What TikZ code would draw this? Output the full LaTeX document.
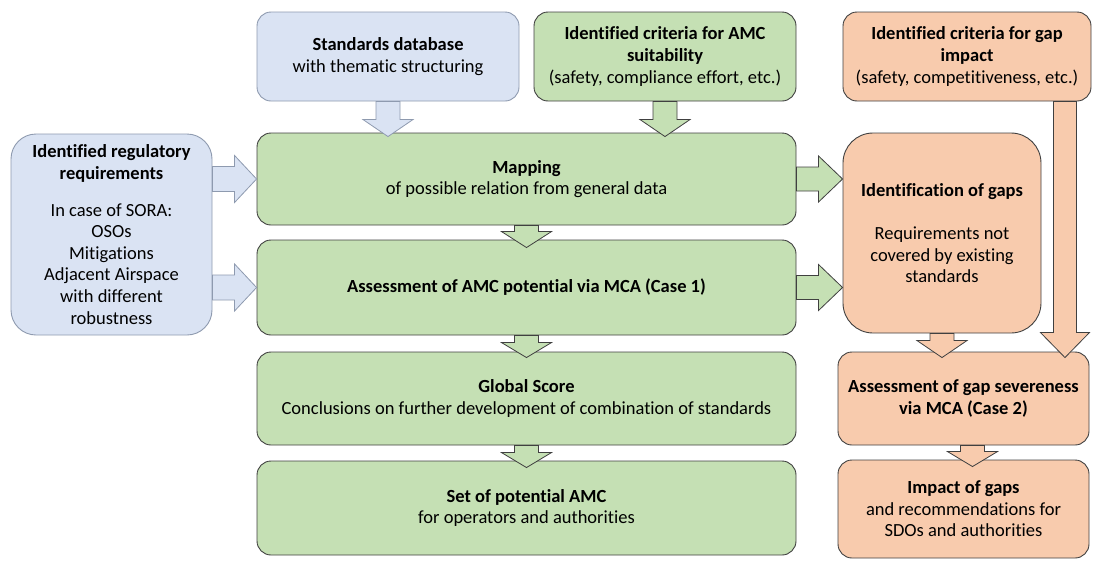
\documentclass[tikz,border=0pt]{standalone}
\usepackage{fontspec}
\setmainfont{Carlito}[Ligatures=NoCommon]
\usetikzlibrary{calc}
\definecolor{bfill}{HTML}{DAE3F3}
\definecolor{bdraw}{HTML}{8E9AAF}
\definecolor{gfill}{HTML}{C5E0B4}
\definecolor{ofill}{HTML}{F8CBAD}
\definecolor{dline}{HTML}{404040}
\tikzset{
  box/.style={draw=dline, line width=0.9pt, rounded corners=14pt, align=center,
    inner sep=0pt, font=\fontsize{18.5}{21.6}\selectfont, text=black},
  bluebox/.style={box, fill=bfill, draw=bdraw},
  greenbox/.style={box, fill=gfill},
  orangebox/.style={box, fill=ofill},
  barrow/.style={fill=bfill, draw=bdraw, line width=0.8pt, line join=miter},
  garrow/.style={fill=gfill, draw=dline, line width=0.8pt, line join=miter},
  oarrow/.style={fill=ofill, draw=dline, line width=0.8pt, line join=miter},
}
% box: name, style, x1, y1, x2, y2, text
\newcommand{\boxat}[7]{%
  \node[#2, minimum width={(#5-#3)*1pt}, minimum height={(#6-#4)*1pt}]
    (#1) at ({(#3+#5)/2},{(#4+#6)/2}) {#7};}
% vertical block arrow: style, start, tip, shaft half width, head half width, head length
\newcommand{\vblk}[6]{%
  \draw[#1] let \p1=(#2), \p2=(#3) in
    ({\x1-#4pt},\y1) -- ({\x1-#4pt},{\y2+#6pt}) -- ({\x1-#5pt},{\y2+#6pt}) -- (\x1,\y2)
    -- ({\x1+#5pt},{\y2+#6pt}) -- ({\x1+#4pt},{\y2+#6pt}) -- ({\x1+#4pt},\y1) -- cycle;}
% horizontal block arrow: style, start, tip, shaft half height, head half height, head length
\newcommand{\hblk}[6]{%
  \draw[#1] let \p1=(#2), \p2=(#3) in
    (\x1,{\y1+#4pt}) -- ({\x2-#6pt},{\y1+#4pt}) -- ({\x2-#6pt},{\y1+#5pt}) -- (\x2,\y1)
    -- ({\x2-#6pt},{\y1-#5pt}) -- ({\x2-#6pt},{\y1-#4pt}) -- (\x1,{\y1-#4pt}) -- cycle;}
\begin{document}
\begin{tikzpicture}[x=1pt,y=-1pt]
\useasboundingbox (0,0) rectangle (1093,560);
% boxes
\boxat{std}{bluebox}{257}{12}{519}{101}{\textbf{Standards database}\\with thematic structuring}
\boxat{amc}{greenbox}{534}{12}{796}{101}{\textbf{Identified criteria for AMC}\\\textbf{suitability}\\(safety, compliance effort, etc.)}
\boxat{gi}{orangebox}{843}{12}{1091}{101}{\textbf{Identified criteria for gap}\\\textbf{impact}\\(safety, competitiveness, etc.)}
\boxat{reg}{bluebox, rounded corners=25pt}{11}{134}{212}{335}{\textbf{Identified regulatory}\\\textbf{requirements}\\[15pt]In case of SORA:\\OSOs\\Mitigations\\Adjacent Airspace\\with different\\robustness}
\boxat{map}{greenbox}{257}{133}{796}{225}{\textbf{Mapping}\\of possible relation from general data}
\boxat{ass}{greenbox}{257}{240}{796}{335}{\textbf{Assessment of AMC potential via MCA (Case 1)}}
\boxat{glob}{greenbox}{257}{352}{796}{445}{\textbf{Global Score}\\Conclusions on further development of combination of standards}
\boxat{set}{greenbox}{257}{461}{796}{555}{\textbf{Set of potential AMC}\\for operators and authorities}
\boxat{ident}{orangebox, rounded corners=30pt}{843}{133}{1041}{333}{\textbf{Identification of gaps}\\[22pt]Requirements not\\covered by existing\\standards}
\boxat{sev}{orangebox}{838}{352}{1089}{445}{\textbf{Assessment of gap severeness}\\\textbf{via MCA (Case 2)}}
\boxat{imp}{orangebox}{838}{460}{1089}{558}{\textbf{Impact of gaps}\\and recommendations for\\SDOs and authorities}
% arrows
\coordinate (gitail) at ($(gi.south east)+(-26.5,0)$);
\coordinate (sevtail) at ($(sev.south)+(9,0)$);
\vblk{barrow}{std.south}{$(map.north)+(0,4)$}{12}{25}{17}
\vblk{garrow}{amc.south}{$(map.north)+(0,4)$}{12}{25}{17}
\vblk{garrow}{map.south}{$(ass.north)+(0,8)$}{12}{25}{16}
\vblk{garrow}{ass.south}{$(glob.north)+(0,6)$}{12}{25}{15}
\vblk{garrow}{glob.south}{$(set.north)+(0,7)$}{12}{25}{15}
\vblk{oarrow}{ident.south}{$(sev.north)+(0,6)$}{12}{25}{17}
\vblk{oarrow}{sevtail}{$(imp.north)+(0,7)$}{12}{25}{15}
\vblk{oarrow}{gitail}{$(sev.north)+(0,6)$}{11.5}{24.5}{25}
\hblk{garrow}{map.east}{ident.west |- map.east}{12}{23}{24}
\hblk{garrow}{ass.east}{ident.west |- ass.east}{12}{23}{24}
\hblk{barrow}{reg.east |- map.west}{map.west}{12.5}{23.5}{22}
\hblk{barrow}{reg.east |- ass.west}{ass.west}{12.5}{23.5}{22}
\end{tikzpicture}
\end{document}
